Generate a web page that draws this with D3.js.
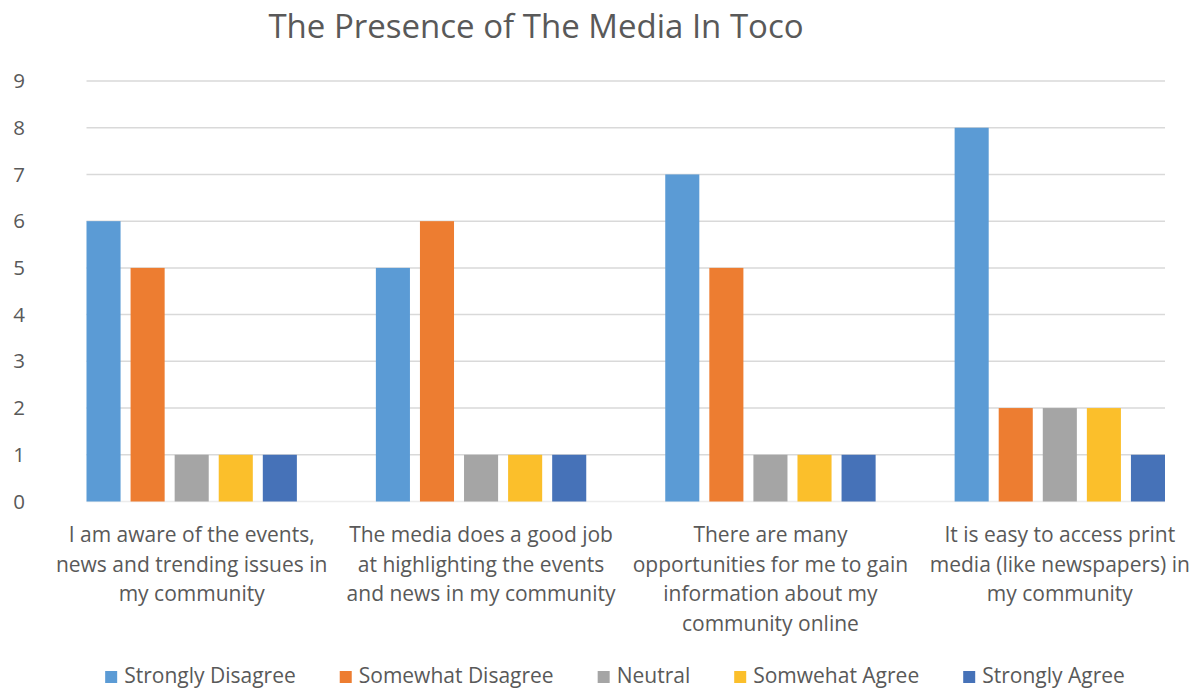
<!DOCTYPE html>
<html lang="en">
<head>
<meta charset="UTF-8">
<title>The Presence of The Media In Toco</title>
<script src="https://cdn.jsdelivr.net/npm/d3@7"></script>
<style>
  body { margin: 0; background: #fff; }
  text { font-family: "Open Sans", "Noto Sans", sans-serif; fill: #595959; }
  .grid line { stroke: #d9d9d9; stroke-width: 1.5px; }
</style>
</head>
<body>
<div id="chart"></div>
<script>
// data
const categories = [
  ["I am aware of the events,", "news and trending issues in", "my community"],
  ["The media does a good job", "at highlighting the events", "and news in my community"],
  ["There are many", "opportunities for me to gain", "information about my", "community online"],
  ["It is easy to access print", "media (like newspapers) in", "my community"]
];
const seriesNames = ["Strongly Disagree", "Somewhat Disagree", "Neutral", "Somwehat Agree", "Strongly Agree"];
const stronglyDisagree = [6, 5, 7, 8];
const somewhatDisagree = [5, 6, 5, 2];
const neutral = [1, 1, 1, 2];
const somewhatAgree = [1, 1, 1, 2];
const stronglyAgree = [1, 1, 1, 1];
const colors = ["#5b9bd5", "#ed7d31", "#a5a5a5", "#fbbf2b", "#4672b8"];
const yTicks = [0, 1, 2, 3, 4, 5, 6, 7, 8, 9];

const seriesValues = [stronglyDisagree, somewhatDisagree, neutral, somewhatAgree, stronglyAgree];
const catIdx = categories.map((c, i) => i);

const W = 1198, H = 689;
const svg = d3.select("#chart").append("svg")
    .attr("width", W)
    .attr("height", H);

// scales
const x0 = d3.scaleBand().domain(catIdx).range([47, 1204.5]).padding(0);
const x1 = d3.scaleBand().domain(seriesNames)
    .range([39.5, x0.bandwidth() - 39.5])
    .paddingInner(0.227).paddingOuter(0);
const y = d3.scaleLinear().domain([0, 9]).range([501.5, 81]);

// title
svg.append("text")
    .attr("x", 536)
    .attr("y", 38)
    .attr("text-anchor", "middle")
    .style("font-size", "33px")
    .text("The Presence of The Media In Toco");

// gridlines, spanning the bars
const gridLeft = x0(0) + x1(seriesNames[0]);
const gridRight = x0(catIdx.length - 1) + x1(seriesNames[seriesNames.length - 1]) + x1.bandwidth();
svg.append("g")
    .attr("class", "grid")
  .selectAll("line")
  .data(yTicks)
  .join("line")
    .attr("x1", gridLeft)
    .attr("x2", gridRight)
    .attr("y1", d => y(d))
    .attr("y2", d => y(d))
    .style("stroke", d => d === 0 ? "#ececec" : null);

// y axis labels
const yAxis = svg.append("g")
    .attr("transform", "translate(25,0)")
    .call(d3.axisLeft(y).tickValues(yTicks).tickSize(0).tickPadding(0));
yAxis.select(".domain").remove();
yAxis.selectAll("text")
    .style("font-size", "20.5px")
    .style("fill", "#595959")
    .style("font-family", "'Open Sans', sans-serif");

// bars
const groups = svg.append("g")
  .selectAll("g")
  .data(catIdx)
  .join("g")
    .attr("transform", d => `translate(${x0(d)},0)`);

groups.selectAll("rect")
  .data(ci => seriesNames.map((s, si) => ({ s, si, v: seriesValues[si][ci] })))
  .join("rect")
    .attr("x", d => x1(d.s))
    .attr("y", d => y(d.v))
    .attr("width", x1.bandwidth())
    .attr("height", d => y(0) - y(d.v))
    .attr("fill", d => colors[d.si]);

// category labels
const labels = svg.append("g")
  .selectAll("text")
  .data(catIdx)
  .join("text")
    .attr("x", d => x0(d) + x0.bandwidth() / 2)
    .attr("y", 542)
    .attr("text-anchor", "middle")
    .style("font-size", "21px");
labels.selectAll("tspan")
  .data(d => categories[d])
  .join("tspan")
    .attr("x", function() { return d3.select(this.parentNode).attr("x"); })
    .attr("dy", (d, i) => i === 0 ? 0 : 29.6)
    .text(d => d);

// legend
const legend = svg.append("g");
const items = legend.selectAll("g")
  .data(seriesNames)
  .join("g");
items.append("rect")
    .attr("width", 12)
    .attr("height", 12)
    .attr("y", -12)
    .attr("fill", (d, i) => colors[i]);
items.append("text")
    .attr("x", 19)
    .attr("y", 0)
    .style("font-size", "21px")
    .text(d => d);

const widths = [];
items.each(function() {
  widths.push(this.getBBox().width);
});
const gap = 44;
const total = d3.sum(widths) + gap * (widths.length - 1);
let offset = 615 - total / 2;
items.attr("transform", (d, i) => {
  const t = `translate(${offset},683)`;
  offset += widths[i] + gap;
  return t;
});
</script>
</body>
</html>
